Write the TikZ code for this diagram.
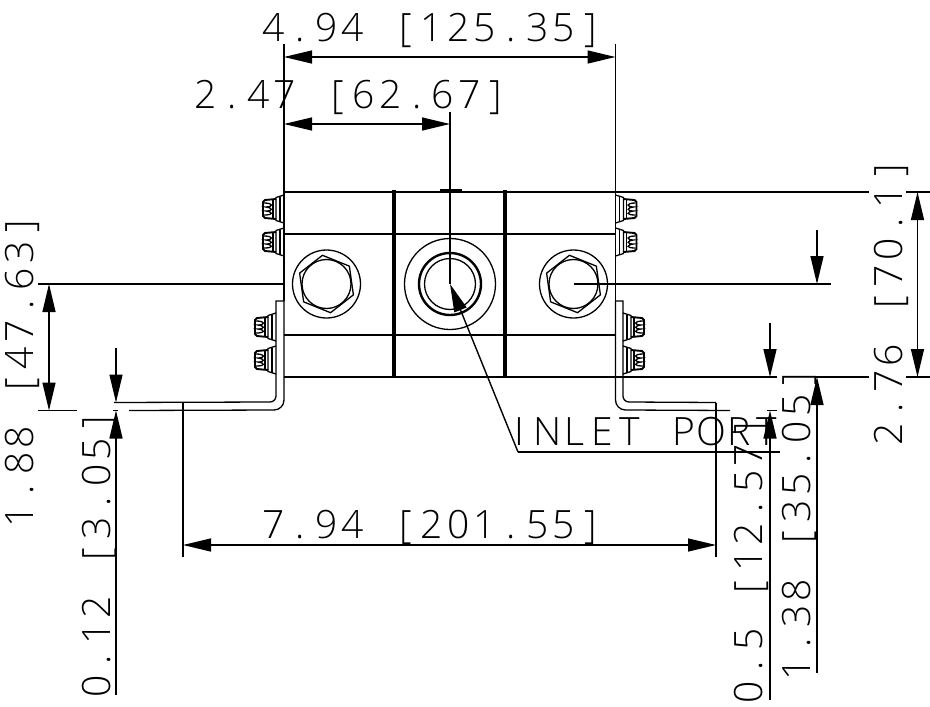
\documentclass[tikz,border=0pt]{standalone}
\usepackage{amsmath}
\usepackage{fontspec}
\usetikzlibrary{arrows.meta}
\newfontfamily\cadfont{Open Sans Light}
\tikzstyle{part} = [line width=1.8pt]
\tikzstyle{thin} = [line width=1.3pt]
\tikzstyle{ext} = [line width=1.3pt]
\tikzstyle{dim} = [line width=1.4pt, {Triangle[length=28pt,width=13pt]}-{Triangle[length=28pt,width=13pt]}]
\tikzstyle{lead} = [line width=1.4pt, -{Triangle[length=28pt,width=13pt]}]
\tikzstyle{dimtext} = [inner sep=0pt, anchor=base west, font=\fontsize{39}{39}\cadfont\selectfont]
% every character of a dimension sits in a cell of the same width
\newlength{\cellw}
\def\pitchedloop#1{\ifx#1\relax\else\makebox[\cellw][c]{#1}\expandafter\pitchedloop\fi}
\newcommand{\pitched}[2][26.4pt]{\setlength{\cellw}{#1}\pitchedloop#2\relax}
% one small fastener, x is measured out from the plate
\newcommand{\clampnut}[3]{
  \begin{scope}[shift={(#1,#2)}, xscale=#3, thin]
    \draw (0,-14) -- (8,-11.5) -- (8,11.5) -- (0,14);
    \draw[line width=1.7pt] (4,-12.5) -- (4,12.5);
    \draw[line width=1.9pt] (8,-10) -- (19,-9) -- (21,-7) -- (21,7) -- (19,9) -- (8,10);
    \draw (11,-10) -- (11,10);
    \draw[line width=1.3pt] (20,-6) .. controls (10,-6) and (11,-2) .. (18,-2) .. controls (11,-1) and (11,2) .. (18,2) .. controls (11,3) and (10,6) .. (20,6);
  \end{scope}
}
\newcommand{\hexbolt}[2]{
  \begin{scope}[shift={(#1,#2)}, thin]
    \draw (0,0) circle[radius=34pt];
    \draw (0,0) circle[radius=24.5pt];
    \draw (98:29pt) -- (38:29pt) -- (-22:29pt) -- (-82:29pt) -- (-142:29pt) -- (158:29pt) -- cycle;
  \end{scope}
}
\begin{document}
\begin{tikzpicture}[x=1pt, y=-1pt]
  \useasboundingbox (0,0) rectangle (930,707);
  \fill[white] (0,0) rectangle (930,707);
  % points of the part
  \coordinate (plate-tl) at (284,192);
  \coordinate (plate-tr) at (615.5,192);
  \coordinate (port) at (450,284);
  \coordinate (bolt-r) at (573.5,284);
  \coordinate (foot-l) at (116,402.5);
  \coordinate (foot-r) at (716,402.5);
  % plate
  \draw[part] (284,192) -- (284,301);
  \draw[part] (284,192) -- (869,192);
  \draw[part] (906,192) -- (930,192);
  \draw[part] (284,234) -- (615.5,234);
  \draw[part] (284,335) -- (615.5,335);
  \draw[part] (284,377) -- (777,377);
  \draw[thin] (815,377) -- (869,377);
  \draw[thin] (906,377) -- (930,377);
  \draw[thin] (615.5,192) -- (615.5,301);
  \draw[thin] (440,190) -- (462,190);
  \foreach \x in {393.2,395.4,504.2,506.4} {
    \draw[line width=1.9pt] (\x,190) -- (\x,378);
  }
  % brackets
  \draw[thin] (284,301) -- (276,301) -- (276,396) arc[start angle=0, end angle=90, radius=6] -- (114,402.5);
  \draw[thin] (284,301) -- (284,400) arc[start angle=0, end angle=90, radius=10] -- (129,410.5);
  \draw[thin] (615.5,301) -- (623,301) -- (623,396) arc[start angle=180, end angle=90, radius=6] -- (716,402.5);
  \draw[thin] (615.5,301) -- (615.5,400) arc[start angle=180, end angle=90, radius=10] -- (730,410.5);
  % fasteners
  \foreach \y in {209,242} {
    \clampnut{284}{\y}{-1}
    \clampnut{615.5}{\y}{1}
  }
  \foreach \y in {327,360} {
    \clampnut{276}{\y}{-1}
    \clampnut{623}{\y}{1}
  }
  % bolts and port
  \hexbolt{326.5}{284}
  \hexbolt{573.5}{284}
  \draw[thin] (port) circle[radius=45.5pt];
  \draw[line width=2.4pt] (port) circle[radius=31pt];
  \draw[thin] (port) circle[radius=25.5pt];
  % extension lines
  \draw[ext] (284,44) -- (plate-tl);
  \draw[ext] (615.5,44) -- (plate-tr);
  \draw[ext] (450,112) -- (port);
  \draw[ext] (38,284) -- (284,284);
  \draw[ext] (bolt-r) -- (831,284);
  \draw[ext] (38,410.5) -- (77,410.5);
  \draw[ext] (183,402.5) -- (183,557);
  \draw[ext] (foot-r) -- (716,557);
  \draw[ext] (113,410.5) -- (118,410.5);
  \draw[ext] (767,410.5) -- (777,410.5);
  % dimensions
  \draw[dim] (284,57) -- (615.5,57);
  \draw[dim] (284,124) -- (450,124);
  \draw[dim] (183,545) -- (716,545);
  \draw[dim] (49,284) -- (49,410.5);
  \draw[dim] (917.5,192) -- (917.5,377);
  \draw[lead] (116,348) -- (116,402.5);
  \draw[lead] (116,695) -- (116,410.5);
  \draw[lead] (770,323) -- (770,377);
  \draw[lead] (770,700) -- (770,410.5);
  \draw[lead] (817,230) -- (817,284);
  \draw[lead] (817,673) -- (817,377);
  % inlet leader
  \coordinate (lead-knee) at (518,452);
  \draw[lead] (lead-knee) -- (port);
  \draw[thin] (lead-knee) -- (780,452);
  % texts
  \node[dimtext] (t-width) at (260,41) {\pitched{4.94~[125.35]}};
  \node[dimtext] (t-half) at (192,108) {\pitched{2.47~[62.67]}};
  \node[dimtext] (t-feet) at (260,538) {\pitched{7.94~[201.55]}};
  \node[dimtext] (t-inlet) at (506,445) {\pitched[27.4pt]{INLET~PORT}};
  \node[dimtext, rotate=90] (t-left) at (34,530) {\pitched{1.88~[47.63]}};
  \node[dimtext, rotate=90] (t-foot) at (110,700) {\pitched{0.12~[3.05]}};
  \node[dimtext, rotate=90] (t-lip) at (762,706) {\pitched{0.5~[12.57]}};
  \node[dimtext, rotate=90] (t-bolt) at (810,683) {\pitched{1.38~[35.05]}};
  \node[dimtext, rotate=90] (t-high) at (902,448) {\pitched{2.76~[70.1]}};
\end{tikzpicture}
\end{document}
